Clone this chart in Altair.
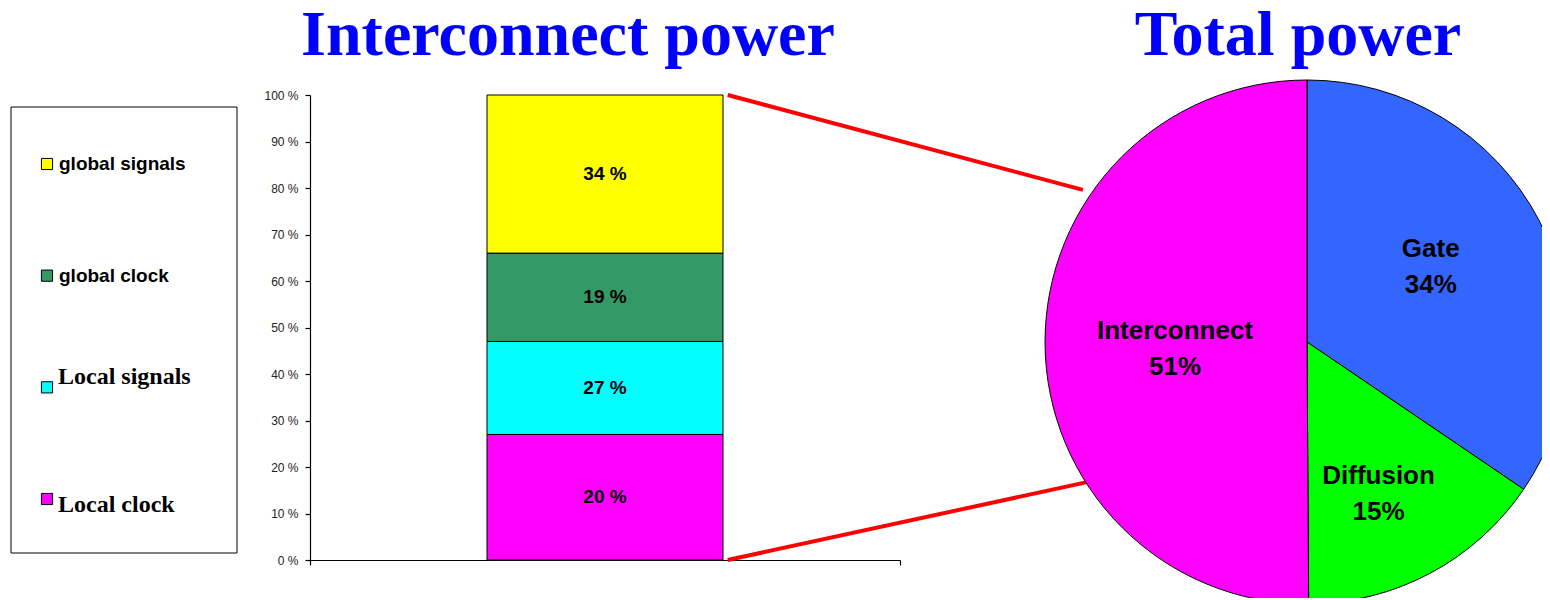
import altair as alt
import pandas as pd

# ---------------- data ----------------
bar_segments = ["Local clock", "Local signals", "global clock", "global signals"]
bar_values = [27, 20, 19, 34]
bar_labels = ["20 %", "27 %", "19 %", "34 %"]
bar_colors = ["#FF00FF", "#00FFFF", "#339966", "#FFFF00"]

legend_order = ["global signals", "global clock", "Local signals", "Local clock"]

pie_parts = ["Gate", "Diffusion", "Interconnect"]
pie_values = [34.5, 15.4, 50.1]          # slice sizes as drawn
pie_labels = ["34%", "15%", "51%"]       # printed labels
pie_colors = ["#3366FF", "#00FF00", "#FF00FF"]

y_ticks = [0, 10, 20, 30, 40, 50, 60, 70, 80, 90, 100]

titles = ["Interconnect power", "Total power"]

# connector lines (bar corners -> pie edge), in bar-axis units
conn_x0 = [0.708, 0.708]
conn_y0 = [100, 0]
conn_x1 = [1.31, 1.319]
conn_y1 = [79.6, 16.8]

# ---------------- layout ----------------
W, H = 1534, 590
Y_RANGE = [552, 87]
X_RANGE = [302, 892]
PIE_CX, PIE_CY, PIE_R = 1299, 334, 262

bar_df = pd.DataFrame({"segment": bar_segments, "value": bar_values,
                       "label": bar_labels, "idx": list(range(len(bar_segments)))})
pie_df = pd.DataFrame({"part": pie_parts, "share": pie_values, "plabel": pie_labels,
                       "idx": list(range(len(pie_parts)))})
leg_df = pd.DataFrame({"item": legend_order})
conn_df = pd.DataFrame({"x0": conn_x0, "y0": conn_y0, "x1": conn_x1, "y1": conn_y1})
title_df = pd.DataFrame({"title": titles})

y_scale = alt.Scale(domain=[0, 100], range=Y_RANGE, zero=False, nice=False)
x_band = alt.X("grp:N", scale=alt.Scale(range=X_RANGE, paddingInner=0, paddingOuter=0.75), axis=None)

# ---- legend ----
leg_box = alt.Chart(pd.DataFrame({"box": [0]})).mark_rect(
    fill="white", stroke="black", strokeWidth=1
).encode(x=alt.value(3), x2=alt.value(229), y=alt.value(99), y2=alt.value(545))

color_map = dict(zip(bar_segments, bar_colors))
ly = alt.Y("item:N", scale=alt.Scale(type="point", domain=legend_order, range=[156, 491], padding=0), axis=None)

leg_sq = alt.Chart(leg_df).mark_square(size=125, stroke="black", strokeWidth=1, opacity=1, filled=True).encode(
    x=alt.value(39), y=ly,
    color=alt.Color("item:N", scale=alt.Scale(domain=legend_order, range=[color_map[i] for i in legend_order]), legend=None),
)
leg_txt_sans = alt.Chart(leg_df).transform_filter(
    alt.FieldOneOfPredicate(field="item", oneOf=["global signals", "global clock"])
).mark_text(align="left", baseline="middle", font="Liberation Sans", fontWeight="bold", fontSize=19, color="black").encode(
    x=alt.value(51), y=ly, text="item:N")
leg_txt_s1 = alt.Chart(leg_df).transform_filter(alt.datum.item == "Local signals").mark_text(
    align="left", baseline="middle", font="Liberation Serif", fontWeight="bold", fontSize=24, color="black", dy=-10
).encode(x=alt.value(50), y=ly, text="item:N")
leg_txt_s2 = alt.Chart(leg_df).transform_filter(alt.datum.item == "Local clock").mark_text(
    align="left", baseline="middle", font="Liberation Serif", fontWeight="bold", fontSize=24, color="black", dy=6
).encode(x=alt.value(50), y=ly, text="item:N")

# ---- titles ----
def title_layer(t, cx):
    return alt.Chart(title_df).transform_filter(alt.datum.title == t).mark_text(
        font="Liberation Serif", fontWeight="bold", fontSize=64, color="#0000FF",
        align="center", baseline="alphabetic"
    ).encode(x=alt.value(cx), y=alt.value(47), text="title:N")

t1 = title_layer(titles[0], 560)
t2 = title_layer(titles[1], 1290)

# ---- connectors ----
conn = alt.Chart(conn_df).mark_rule(color="#FF0000", strokeWidth=4).encode(
    x=alt.X("x0:Q", scale=alt.Scale(domain=[0, 1], range=X_RANGE, zero=False, nice=False),
            axis=alt.Axis(values=[0, 1], labels=False, tickSize=5, offset=-(H - Y_RANGE[0]), grid=False,
                          title=None, domainColor="black", tickColor="black", domainWidth=1.2, tickWidth=1.2)),
    x2="x1:Q",
    y=alt.Y("y0:Q", scale=y_scale, axis=None),
    y2="y1:Q",
)

# ---- stacked bar ----
base_bar = alt.Chart(bar_df).transform_stack(
    stack="value", groupby=[], as_=["v0", "v1"], sort=[alt.SortField("idx", order="ascending")]
).transform_calculate(mid="(datum.v0 + datum.v1) / 2", grp="'bar'")

bar = base_bar.mark_bar(stroke="black", strokeWidth=1).encode(
    x=x_band,
    y=alt.Y("v0:Q", scale=y_scale,
            axis=alt.Axis(values=y_ticks, labelExpr="datum.value + ' %'", offset=-X_RANGE[0],
                          domainColor="black", tickColor="black", tickSize=5, grid=False, title=None,
                          labelFont="Liberation Sans", labelFontSize=12, labelColor="#222222",
                          labelPadding=7, domainWidth=1.2, tickWidth=1.2)),
    y2="v1:Q",
    color=alt.Color("segment:N", scale=alt.Scale(domain=bar_segments, range=bar_colors), legend=None),
)
bar_txt = base_bar.mark_text(font="Liberation Sans", fontWeight="bold", fontSize=19, color="black",
                             baseline="middle", align="center").encode(
    x=x_band, y=alt.Y("mid:Q", scale=y_scale, axis=None), text="label:N")

# ---- pie ----
theta_scale = alt.Scale(domain=[0, 100], range=[0, 6.283185307179586])
base_pie = alt.Chart(pie_df).transform_window(
    cum="sum(share)", sort=[alt.SortField("idx")]
).transform_calculate(
    t0="datum.cum - datum.share", tm="datum.cum - datum.share / 2",
    txt="datum.part + '\\n' + datum.plabel"
)
arc = base_pie.mark_arc(radius=PIE_R, stroke="black", strokeWidth=1).encode(
    theta=alt.Theta("t0:Q", scale=theta_scale), theta2="cum:Q",
    color=alt.Color("part:N", scale=alt.Scale(domain=pie_parts, range=pie_colors), legend=None),
    x=alt.value(PIE_CX), y=alt.value(PIE_CY),
)

def pie_text(part, r, dy):
    return base_pie.transform_filter(alt.datum.part == part).mark_text(
        radius=r, dy=dy, font="Liberation Sans", fontWeight="bold", fontSize=26, color="black",
        align="center", baseline="middle", lineBreak="\n", lineHeight=36
    ).encode(theta=alt.Theta("tm:Q", scale=theta_scale), text="txt:N",
             x=alt.value(PIE_CX), y=alt.value(PIE_CY))

pt1 = pie_text("Gate", 140, -27)
pt2 = pie_text("Diffusion", 152, 0)
pt3 = pie_text("Interconnect", 132, -11)

chart = alt.layer(
    leg_box, leg_sq, leg_txt_sans, leg_txt_s1, leg_txt_s2,
    t1, t2, conn, bar, bar_txt, arc, pt1, pt2, pt3
).resolve_scale(
    x="independent", y="independent", color="independent"
).properties(
    width=W, height=H, autosize=alt.AutoSizeParams(type="none"), padding=0
).configure_view(stroke=None)

chart.save("out.html", embed_options={"renderer": "svg", "actions": False})
